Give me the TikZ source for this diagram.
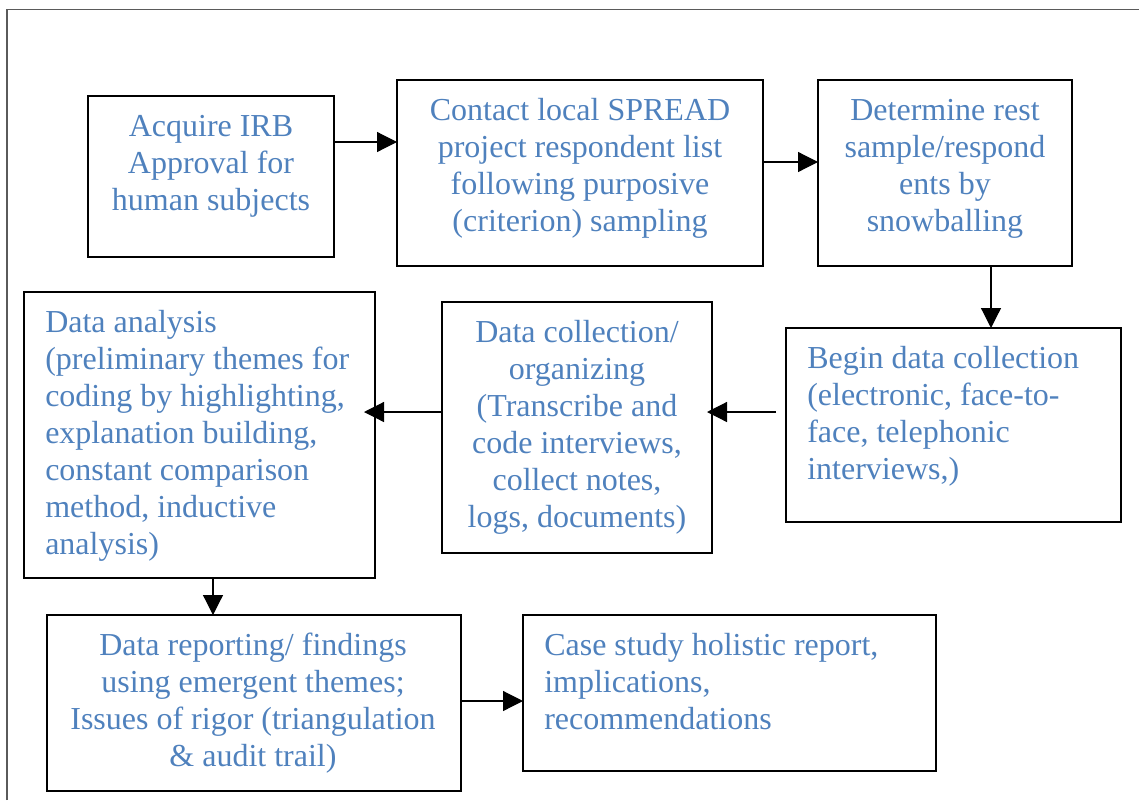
\documentclass[tikz,border=0pt]{standalone}
\usepackage{fontspec}
\setmainfont{Liberation Serif}
\usetikzlibrary{arrows.meta,calc}
\definecolor{txtblue}{HTML}{4F81BD}
\definecolor{framegray}{HTML}{5A5A5A}
% lines of a box, top-aligned so the node's base is the first baseline
\newcommand{\flowlines}[2]{\begin{tabular}[t]{@{}#1@{}}#2\end{tabular}}
\begin{document}
\begin{tikzpicture}[x=0.75pt,y=-0.75pt,
  flowbox/.style={draw=black,line width=1.3pt,inner sep=0pt,outer sep=0pt,rectangle},
  flowtext/.style={inner sep=0pt,text=txtblue,font=\fontsize{24}{27.75}\selectfont},
  arr/.style={line width=0.9pt,-{Triangle[length=15pt,width=15pt]}}]
\useasboundingbox (0,0) rectangle (1139,800);

% page frame
\draw[framegray,line width=0.8pt] (7,800) -- (7,9.5) -- (1139,9.5);

% boxes
\node[flowbox,minimum width=184.5pt,minimum height=120.75pt] (b1) at (211,176.5) {};
\node[flowbox,minimum width=274.5pt,minimum height=139.5pt] (b2) at (580,173) {};
\node[flowbox,minimum width=190.5pt,minimum height=139.5pt] (b3) at (945,173) {};
\node[flowbox,minimum width=251.25pt,minimum height=145.5pt] (b4) at (953.5,425) {};
\node[flowbox,minimum width=202.5pt,minimum height=188.25pt] (b5) at (577,427.5) {};
\node[flowbox,minimum width=263.25pt,minimum height=214.5pt] (b6) at (199.5,435) {};
\node[flowbox,minimum width=310.5pt,minimum height=132pt] (b7) at (254,703) {};
\node[flowbox,minimum width=309.75pt,minimum height=117pt] (b8) at (729.5,693) {};

% texts
\node[flowtext,anchor=base] (t1) at (211,136) {\flowlines{c}{Acquire IRB\\Approval for\\human subjects}};
\node[flowtext,anchor=base] (t2) at (580,120) {\flowlines{c}{Contact local SPREAD\\project respondent list\\following purposive\\(criterion) sampling}};
\node[flowtext,anchor=base] (t3) at (945,120) {\flowlines{c}{Determine rest\\sample/respond\\ents by\\snowballing}};
\node[flowtext,anchor=base west] (t4) at (807,368) {\flowlines{l}{Begin data collection\\(electronic, face-to-\\face, telephonic\\interviews,)}};
\node[flowtext,anchor=base] (t5) at (577,342) {\flowlines{c}{Data collection/\\organizing\\(Transcribe and\\code interviews,\\collect notes,\\logs, documents)}};
\node[flowtext,anchor=base west] (t6) at (45,332) {\flowlines{l}{Data analysis\\(preliminary themes for\\coding by highlighting,\\explanation building,\\constant comparison\\method, inductive\\analysis)}};
\node[flowtext,anchor=base] (t7) at (253,655) {\flowlines{c}{Data reporting/ findings\\using emergent themes;\\Issues of rigor (triangulation\\\& audit trail)}};
\node[flowtext,anchor=base west] (t8) at (544,655) {\flowlines{l}{Case study holistic report,\\implications,\\recommendations}};

% connector heights / columns
\coordinate (y12) at (0,142);
\coordinate (y23) at (0,162);
\coordinate (x34) at (991,0);
\coordinate (y45) at (0,412);
\coordinate (x67) at (213,0);
\coordinate (y78) at (0,701);

% connectors
\draw[arr] (b1.east |- y12) -- (b2.west |- y12);
\draw[arr] (b2.east |- y23) -- (b3.west |- y23);
\draw[arr] (b3.south -| x34) -- (b4.north -| x34);
\draw[arr] ($(b4.west |- y45)+(-10,0)$) -- ($(b5.east |- y45)+(-5,0)$);
\draw[arr] (b5.west |- y45) -- ($(b6.east |- y45)+(-11,0)$);
\draw[arr] (b6.south -| x67) -- (b7.north -| x67);
\draw[arr] (b7.east |- y78) -- (b8.west |- y78);
\end{tikzpicture}
\end{document}
